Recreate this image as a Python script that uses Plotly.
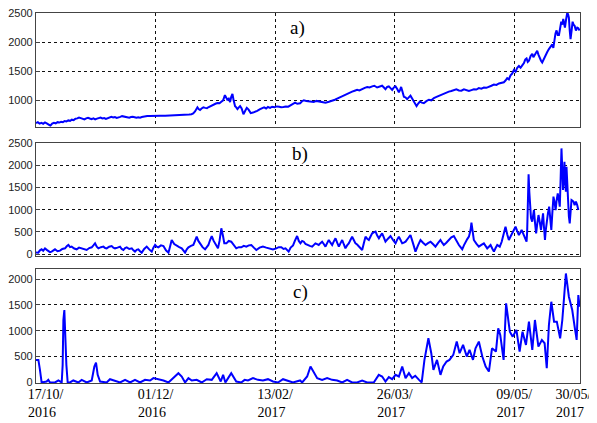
import plotly.graph_objects as go

# ---- data (sample index along x) ----
a_idx = [0, 1.5, 3, 4.5, 6, 7.5, 9, 10.5, 12, 13.5, 15, 16.5, 18, 19.5, 21, 22.5, 24, 25.5, 27, 28.5,
         30, 31.5, 33, 34.5, 36, 37.5, 39, 40.5, 42, 43.5, 45, 46.5, 48, 49.5, 51, 52.5, 54, 55.5, 57,
         58.5, 60, 61.5, 63, 64.5, 66, 67.5, 69, 70.5, 72, 73.5, 75, 76.5, 78, 79.5, 81, 82.5, 84, 85.5,
         87, 88.5, 90, 91.5, 93, 95, 97, 100, 104, 108, 112, 116, 120, 123, 126, 128, 130, 131.5, 133,
         134, 135, 136, 137.2, 138.5, 140, 141.5, 143, 144.5, 146, 147.5, 149, 150.5, 152, 153.5, 155,
         156.5, 158, 159, 160, 161.2, 162.3, 163.3, 164.3, 165.3, 166.5, 167.5, 168.5, 169.5, 170.7,
         172, 173.5, 175, 176.3, 177.8, 179.6, 181.5, 183.3, 185, 187.4, 189, 190.8, 192.5, 194, 195.8,
         197.5, 199.5, 201.4, 203.5, 205, 207, 209, 211, 212.6, 214.5, 216.7, 218.5, 220.9, 222.5, 224,
         226, 228.2, 230, 232.3, 234.5, 236.5, 239, 242.1, 245, 247.7, 250, 251.9, 254, 256, 258, 260.2,
         262, 264.4, 266.5, 268.6, 270.5, 272.8, 275, 277, 279, 281.2, 283, 285.3, 287.5, 289.5, 291,
         292.3, 293.7, 295.1, 296.5, 297.9, 299.3, 300.7, 302, 303.5, 304.5, 305.4, 306.5, 307.7, 309,
         310.4, 311.8, 313.2, 314.6, 316, 317.2, 318.3, 319.7, 321.1, 322.7, 324.4, 326.5, 328.6, 330.7,
         332.8, 335, 337, 339, 341.1, 343.2, 345.3, 347.4, 349.5, 351.6, 353.7, 355.8, 357.9, 360, 362.1,
         364.2, 366.2, 368.3, 370.4, 372.5, 374.6, 376.7, 378.8, 380.9, 383, 385.1, 387.2, 389.2, 391.3,
         392.7, 394.1, 395.5, 396.9, 398.3, 399.7, 401.1, 402.5, 403.9, 405.3, 406.7, 408.1, 409.2,
         410.3, 411.3, 412.3, 413.7, 415.1, 416, 417, 418.1, 419.2, 420.3, 421.5, 422.4, 423.4, 424.8,
         426.2, 427.6, 429, 430.4, 431.8, 432.7, 433.7, 434.5, 435.4, 436.4, 437.4, 438.3, 439.3, 440.2,
         441, 441.7, 442.4, 443.3, 444.3, 445, 445.7, 446.4, 447.1, 448, 448.8, 449.6, 450.5, 451.6,
         452.7, 453.6, 454.6]
a_val = [610, 625, 600, 612, 598, 620, 605, 585, 565, 600, 615, 605, 625, 618, 632, 625, 645, 638, 655, 648,
         668, 660, 685, 690, 705, 695, 680, 672, 690, 700, 688, 678, 690, 672, 685, 700, 705, 690, 695,
         680, 692, 700, 715, 705, 712, 698, 700, 715, 728, 718, 710, 702, 700, 712, 718, 710, 700, 708,
         702, 712, 720, 725, 730, 732, 735, 735, 736, 735, 737, 740, 745, 748, 752, 758, 762, 775, 810,
         860, 880, 850, 835, 860, 880, 870, 865, 885, 900, 925, 935, 945, 955, 950, 975,
         1000, 1090, 1050, 1010, 1030, 970, 1060, 1110, 1000, 900, 880, 850, 875, 900,
         860, 760, 820, 870, 840, 780, 790, 800, 820, 850, 870, 880, 860, 885, 870,
         890, 880, 895, 890, 880, 885, 895, 890, 910, 935, 960, 940, 950, 985, 1000,
         990, 985, 970, 970, 990, 980, 965, 960, 975, 990, 1010, 1030, 1050, 1080, 1100, 1120,
         1140, 1150, 1165, 1180, 1170, 1200, 1215, 1230, 1220, 1240, 1250, 1220, 1240, 1250, 1220,
         1190, 1230, 1240, 1210, 1180, 1220, 1240, 1200, 1140, 1180, 1230, 1150, 1060, 1050,
         1020, 1050, 1080, 1030, 980, 940, 900, 945, 980, 960, 950, 985, 1010, 1000,
         1040, 1060, 1080, 1100, 1120, 1130, 1150, 1160, 1180, 1190, 1170, 1165, 1190, 1180, 1160,
         1175, 1190, 1185, 1210, 1200, 1220, 1215, 1240, 1250, 1270, 1265, 1290, 1300, 1310,
         1340, 1380, 1360, 1430, 1460, 1520, 1490, 1560, 1590, 1560, 1600, 1640, 1700,
         1720, 1660, 1680, 1760, 1800, 1740, 1780, 1820, 1850, 1780, 1700, 1680, 1650, 1720,
         1780, 1830, 1880, 1920, 1960, 1900, 2050, 2150, 2200, 2120, 2120, 2250, 2350, 2300,
         2400, 2320, 2250, 2380, 2500, 2480, 2420, 2200, 2050, 2200, 2350, 2300, 2280, 2200,
         2250, 2240, 2200]

b_idx = [0, 1.9, 3.3, 4.7, 6, 7.5, 9, 10.3, 11.7, 13.1, 14.5, 15.9, 18, 20.1, 22, 24.3, 25.7, 27.1,
         28.5, 29.8, 32, 34, 36, 38.2, 40.3, 42.4, 44.5, 46.6, 48, 49.4, 50.8, 52.2, 54.3, 56.4, 57.8,
         59.1, 61.2, 63.3, 64.7, 66.1, 68.2, 70.3, 71.7, 73.1, 74.5, 75.9, 78, 80.1, 81.5, 82.8, 84.2,
         85.6, 87, 88.4, 90.5, 92.6, 94.7, 96.8, 98.2, 99.6, 101, 102.3, 104.5, 106.6, 108.7, 110.8,
         112.2, 113.5, 115.6, 117.7, 119.8, 121.9, 123.3, 124.7, 126.1, 127.5, 129.6, 131.6, 133, 134.4,
         135.8, 137.2, 139.3, 141.4, 142.8, 144.2, 145.6, 147, 148.6, 150.2, 152.2, 153.5, 155, 156.5,
         157.5, 159.2, 161.2, 163.3, 165.4, 167.5, 169.6, 171.7, 173.8, 175.9, 178, 180.1, 182.2, 184.3,
         187, 189.8, 192.6, 195.4, 198.2, 201, 203, 205.2, 207, 208.7, 210, 211.3, 213, 215, 216.5,
         218.4, 219.8, 221.2, 222.6, 224, 225.4, 226.8, 229, 231, 232.3, 233.7, 235.1, 236.5, 237.9,
         239.3, 240.7, 242.1, 243.5, 244.9, 246.3, 247.7, 249.1, 250.5, 251.9, 253.3, 254.7, 256.1,
         257.5, 258.8, 260.2, 261.6, 263, 264.4, 265.8, 267.2, 268.6, 270, 271.4, 272.8, 274.2, 275.6,
         277, 278.4, 279.8, 281.2, 282.6, 284, 285.4, 286.8, 288.2, 289.5, 290.9, 292.3, 294.4, 296.5,
         298.6, 300.7, 302.1, 303.5, 304.9, 306.3, 307.7, 309.1, 311.2, 313.2, 315.3, 317.4, 319.5,
         321.6, 323.7, 325.8, 327.9, 330, 332, 334.1, 336.2, 338.3, 339.7, 341.1, 343.2, 345.3, 347.4,
         349.5, 351.6, 353.7, 355.1, 356.5, 357.9, 359.3, 360.7, 362.1, 363.5, 364.2, 365.5, 366.2,
         368.3, 370.4, 372.5, 374.6, 376, 377.4, 378.8, 380.2, 381.6, 383, 384.4, 385.8, 386.9, 387.9,
         389.5, 390.6, 391.7, 392.7, 394.1, 395.5, 396.9, 398.3, 399.7, 401.1, 402.5, 403.9, 405.1,
         406.2, 407.4, 408.6, 409.5, 410.3, 410.8, 411.3, 412, 412.6, 413.3, 414, 415, 415.7, 416.5,
         417.4, 418.3, 419.3, 420.3, 421.5, 422.4, 423.3, 424.1, 424.9, 425.7, 426.4, 427.3, 428.2,
         429.2, 430.3, 431, 431.8, 432.8, 433.8, 434.6, 435.4, 436.4, 437.4, 438.1, 438.8, 439.5,
         440.2, 440.8, 441.5, 442, 442.4, 443.2, 443.7, 444.3, 444.9, 445.7, 446.4, 447.1, 447.9,
         448.8, 449.6, 450.5, 451.6, 452.7, 453.6, 454.6]
b_val = [40, 37, 90, 112, 80, 134, 100, 82, 50, 60, 95, 112, 70, 82, 120, 134, 180, 209,
         160, 172, 130, 112, 150, 134, 110, 97, 140, 157, 200, 246, 170, 134, 160, 172, 140,
         134, 170, 186, 150, 134, 150, 172, 120, 97, 140, 157, 120, 134, 90, 60, 100,
         112, 70, 37, 120, 172, 110, 60, 150, 209, 170, 157, 200, 186, 90, 37,
         180, 321, 230, 186, 160, 134, 80, 37, 110, 157, 190, 209, 300, 395,
         300, 246, 160, 112, 160, 209, 320, 410, 300, 209, 134, 300, 582, 400,
         246, 246, 300, 283, 200, 134, 160, 157, 190, 172, 200, 209, 150, 97,
         150, 172, 150, 134, 110, 134, 160, 157, 120, 134, 90, 60, 150, 200, 300,
         410, 300, 246, 300, 283, 230, 209, 190, 172, 220, 246, 230, 209, 250,
         283, 230, 172, 250, 321, 260, 209, 290, 358, 260, 172, 250, 321,
         220, 134, 200, 246, 320, 395, 320, 246, 220, 186, 130, 97, 250, 395,
         350, 321, 400, 470, 490, 507, 420, 358, 420, 470, 380, 283, 350, 410,
         320, 246, 330, 395, 320, 246, 260, 283, 360, 433, 250, 60, 200,
         321, 260, 209, 250, 283, 230, 172, 250, 321, 260, 209, 260, 321, 380,
         410, 300, 209, 160, 112, 200, 283, 340, 395, 550, 709, 500, 321,
         240, 172, 210, 246, 190, 134, 170, 209, 130, 60, 140, 209, 190, 172,
         280, 395, 550, 619, 450, 321, 400, 470, 540, 619, 520, 433, 490,
         545, 470, 395, 340, 283, 500, 1000, 1790, 1400, 918, 820, 731, 860,
         992, 700, 470, 700, 880, 700, 545, 750, 918, 600, 321, 550, 768,
         920, 1067, 800, 545, 900, 1291, 1150, 992, 1200, 1365, 1200, 1067, 1700,
         2372, 1900, 1440, 1750, 2074, 1700, 1403, 1962, 1500, 1067, 850, 694, 950,
         1216, 1200, 1179, 1100, 1179, 1100, 992]

c_idx = [0, 2, 3.3, 4.7, 8.9, 10.3, 11.7, 15.9, 18.7, 21.5, 22.3, 22.9, 23.7, 24.5, 25.4, 26.5,
         28.4, 31.2, 35.4, 38.2, 42.4, 46.6, 48.8, 50.2, 51.6, 53.6, 59.1, 61.9, 66.1, 70.3, 74.5,
         78.7, 82.8, 87, 91.2, 95.4, 98.2, 102.3, 106.6, 110.8, 115, 119.1, 121.9, 124.7, 127.5,
         130.3, 134.4, 138.6, 142.8, 147, 151.1, 154.5, 156.5, 158.4, 160.7, 163.3, 167.5, 171.7, 174.5,
         177.3, 181.5, 185.7, 189.8, 194, 198.2, 202.4, 206.6, 210.7, 214.9, 220.9, 222.6, 226.8, 229.6,
         235.2, 239.3, 243.5, 247.7, 251.9, 256.1, 260.2, 264.4, 268.6, 272.8, 276.9, 282.5, 286.7,
         289.5, 292.3, 295.1, 297.9, 300.7, 303.5, 306.3, 309.1, 311.9, 314.6, 317.2, 320.4, 322.6,
         324.9, 328.2, 330.6, 332.4, 335.4, 338.3, 340.6, 343.4, 345.8, 349, 351.9, 354.3, 357.2,
         360.3, 362.6, 365.5, 367.6, 370.4, 373.3, 376.1, 378.8, 381.4, 384.7, 386.6, 388.3, 391.1,
         393.2, 396.3, 398.7, 401.8, 404.5, 406.9, 409.8, 412.3, 415.1, 417.3, 420.2, 423.1, 425.4,
         427.2, 429, 431, 433.3, 435.6, 438.4, 440.2, 441.5, 443.2, 445.7, 448.5, 450.5, 452.2, 453.6, 454.6]
c_val = [437, 437, 244, 0, 19, 51, 0, 0, 39, 0, 341, 1209, 1402, 887, 341, 0,
         0, 39, 0, 51, 0, 39, 309, 386, 148, 19, 0, 64, 39, 0, 51,
         0, 51, 0, 51, 39, 84, 64, 39, 0, 84, 180, 116, 0, 84,
         39, 51, 0, 64, 51, 180, 19, 148, 0, 84, 180, 19, 0, 51,
         39, 84, 51, 39, 64, 19, 0, 64, 39, 0, 39, 0, 116, 309,
         84, 51, 84, 51, 39, 0, 51, 0, 0, 39, 0, 0, 148,
         116, 19, 103, 64, 148, 116, 309, 84, 180, 84, 129, 51, 0,
         437, 855, 566, 244, 437, 148, 309, 405, 437, 534, 791, 566,
         727, 502, 630, 437, 662, 791, 502, 309, 212, 662, 598, 1048, 920,
         437, 1530, 984, 887, 1016, 598, 984, 727, 1177, 630, 1209, 694, 823,
         759, 276, 1112, 1562, 1177, 1177, 855, 1209, 1595, 2109, 1659, 1402, 1080, 823, 1691, 1466, 1112]

# date labels: the end labels sit just inside the axis ends, as in the original
tick_pos = [8, 100, 200, 300, 400, 449.5]
tick_text = ["17/10/<br>2016\u00a0\u00a0", "01/12/<br>2016\u00a0\u00a0", "13/02/<br>2017\u00a0\u00a0",
             "26/03/<br>2017\u00a0\u00a0", "09/05/<br>2017\u00a0\u00a0", "30/05/<br>2017\u00a0\u00a0"]
grid_x = [100, 200, 300, 400]
panel_labels = ["a)", "b)", "c)"]

BLUE = "#0000FF"
fig = go.Figure()
fig.add_trace(go.Scatter(x=a_idx, y=a_val, mode="lines", line=dict(color=BLUE, width=2),
                         xaxis="x", yaxis="y", showlegend=False))
fig.add_trace(go.Scatter(x=b_idx, y=b_val, mode="lines", line=dict(color=BLUE, width=2),
                         xaxis="x2", yaxis="y2", showlegend=False))
fig.add_trace(go.Scatter(x=c_idx, y=c_val, mode="lines", line=dict(color=BLUE, width=2),
                         xaxis="x3", yaxis="y3", showlegend=False))

frame = dict(showline=True, linecolor="#444444", linewidth=1.2, mirror=True,
             zeroline=False, automargin=False)
grid = dict(showgrid=True, gridcolor="#111111", gridwidth=1, griddash="3px,3px", **frame)
ygrid = dict(ticks="inside", ticklen=4, tickcolor="#444444", ticklabeloverflow="allow", **grid)
ysans = dict(family="Liberation Sans, Arial, sans-serif", size=11, color="#222222")

# the page body has an 8px margin, so the figure is sized/margined to compensate
fig.update_layout(
    width=589, height=415,
    margin=dict(l=28, r=17, t=5, b=40, autoexpand=False),
    paper_bgcolor="white", plot_bgcolor="white",
    xaxis=dict(domain=[0, 1], anchor="y", range=[0, 455], showticklabels=False, tickvals=grid_x, **grid),
    xaxis2=dict(domain=[0, 1], anchor="y2", range=[0, 455], showticklabels=False, tickvals=grid_x, **grid),
    # grid lines of the bottom panel come from the overlaid helper axis x4
    xaxis3=dict(domain=[0, 1], anchor="y3", range=[0, 455], showgrid=False, tickvals=tick_pos,
                ticktext=tick_text, ticklabeloverflow="allow", ticklabelstandoff=-2,
                tickfont=dict(family="Liberation Serif, Times New Roman, serif", size=14, color="black"),
                **frame),
    xaxis4=dict(domain=[0, 1], anchor="y3", overlaying="x3", range=[0, 455], showticklabels=False,
                tickvals=grid_x, showgrid=True, gridcolor="#111111", gridwidth=1, griddash="3px,3px",
                showline=False, zeroline=False, automargin=False),
    yaxis=dict(domain=[0.6927, 1.0], anchor="x", range=[547, 2500],
               tickvals=[1000, 1500, 2000, 2500], tickfont=ysans, **ygrid),
    yaxis2=dict(domain=[0.3432, 0.6495], anchor="x2", range=[-38, 2500],
                tickvals=[0, 500, 1000, 1500, 2000, 2500], tickfont=ysans, **ygrid),
    yaxis3=dict(domain=[0, 0.3073], anchor="x3", range=[-10, 2190],
                tickvals=[0, 500, 1000, 1500, 2000], tickfont=ysans, **ygrid),
)
# helper trace so the grid-only axis x4 is drawn
fig.add_trace(go.Scatter(x=[None], y=[None], xaxis="x4", yaxis="y3", showlegend=False, hoverinfo="skip"))

label_y = [0.959, 0.619, 0.246]
label_x = [0.48, 0.485, 0.487]
for t, xx, yy in zip(panel_labels, label_x, label_y):
    fig.add_annotation(text=t, x=xx, y=yy, xref="paper", yref="paper", showarrow=False,
                       xanchor="center", yanchor="middle",
                       font=dict(family="Liberation Serif, Times New Roman, serif", size=19, color="black"))

fig.write_html("out.html")
